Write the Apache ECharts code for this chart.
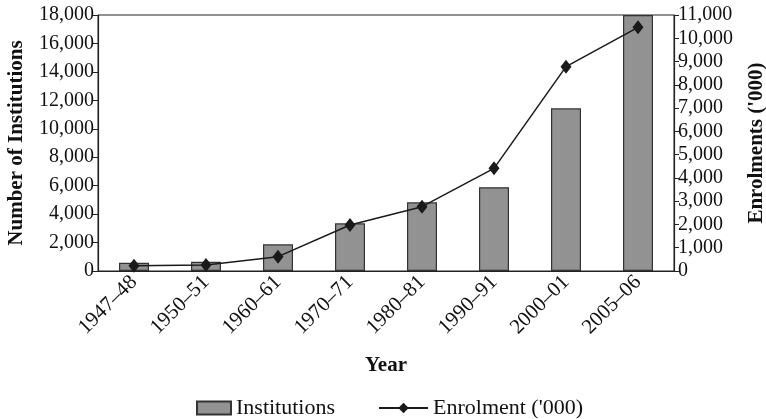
<!DOCTYPE html>
<html>
<head>
<meta charset="utf-8">
<script src="https://cdn.jsdelivr.net/npm/echarts@6/dist/echarts.min.js"></script>
<style>
  html, body { margin: 0; padding: 0; background: #fff; }
  #chart { width: 766px; height: 419px; }
</style>
</head>
<body>
<div id="chart"></div>
<script>
// 数据
var years = ['1947–48', '1950–51', '1960–61', '1970–71', '1980–81', '1990–91', '2000–01', '2005–06']
var institutions = [585, 650, 1875, 3350, 4830, 5890, 11440, 18000]
var enrolment = [230, 260, 615, 1975, 2765, 4410, 8780, 10470]

var font = 'Liberation Serif'
var legendText = { fontFamily: font, fontSize: 22, color: '#111' }
var myChart = echarts.init(document.getElementById('chart'))
myChart.setOption({
  animation: false,
  textStyle: { fontFamily: font, color: '#111' },
  grid: {
    left: 98, right: 92, top: 15, bottom: 148,
    outerBoundsMode: 'none',
    containLabel: false,
    show: true, borderColor: '#222', borderWidth: 1
  },
  // 两个图例，图标宽度不同
  legend: [
    {
      left: 191, bottom: -5,
      itemWidth: 34, itemHeight: 13,
      textStyle: legendText,
      data: [{ name: 'Institutions', icon: 'rect' }]
    },
    {
      left: 373, bottom: -5,
      itemWidth: 49, itemHeight: 13,
      textStyle: legendText,
      data: [{ name: "Enrolment ('000)" }]
    }
  ],
  xAxis: {
    type: 'category',
    data: years,
    name: 'Year',
    nameLocation: 'middle',
    nameGap: 84,
    nameMoveOverlap: false,
    nameTextStyle: { fontFamily: font, fontSize: 21, fontWeight: 'bold', color: '#111' },
    axisLine: { lineStyle: { color: '#222', width: 1.2 } },
    axisTick: { alignWithLabel: false, length: 5, lineStyle: { color: '#222' } },
    axisLabel: { rotate: 45, fontSize: 21, color: '#111', margin: 8 }
  },
  yAxis: [
    {
      type: 'value',
      min: 0, max: 18000, interval: 2000,
      name: 'Number of Institutions',
      nameLocation: 'middle',
      nameRotate: 90,
      nameGap: 71,
      nameTextStyle: { fontFamily: font, fontSize: 21, fontWeight: 'bold', color: '#111' },
      splitLine: { show: false },
      axisLine: { show: true, lineStyle: { color: '#222', width: 1.2 } },
      axisTick: { show: true, length: 5, lineStyle: { color: '#222' } },
      axisLabel: { fontSize: 20, color: '#111', margin: 4 }
    },
    {
      type: 'value',
      min: 0, max: 11000, interval: 1000,
      name: "Enrolments ('000)",
      nameLocation: 'middle',
      nameRotate: 90,
      nameGap: 72,
      nameTextStyle: { fontFamily: font, fontSize: 21, fontWeight: 'bold', color: '#111' },
      splitLine: { show: false },
      axisLine: { show: true, lineStyle: { color: '#222', width: 1.2 } },
      axisTick: { show: true, length: 5, lineStyle: { color: '#222' } },
      axisLabel: { fontSize: 20, color: '#111', margin: 4 }
    }
  ],
  series: [
    {
      name: 'Institutions',
      type: 'bar',
      yAxisIndex: 0,
      barWidth: 30,
      data: institutions,
      itemStyle: { color: '#929292', borderColor: '#333', borderWidth: 1.2 }
    },
    {
      name: "Enrolment ('000)",
      type: 'line',
      yAxisIndex: 1,
      data: enrolment,
      symbol: 'diamond',
      symbolSize: [11, 14],
      lineStyle: { color: '#1a1a1a', width: 1.5 },
      itemStyle: { color: '#1a1a1a' }
    }
  ]
})
</script>
</body>
</html>
